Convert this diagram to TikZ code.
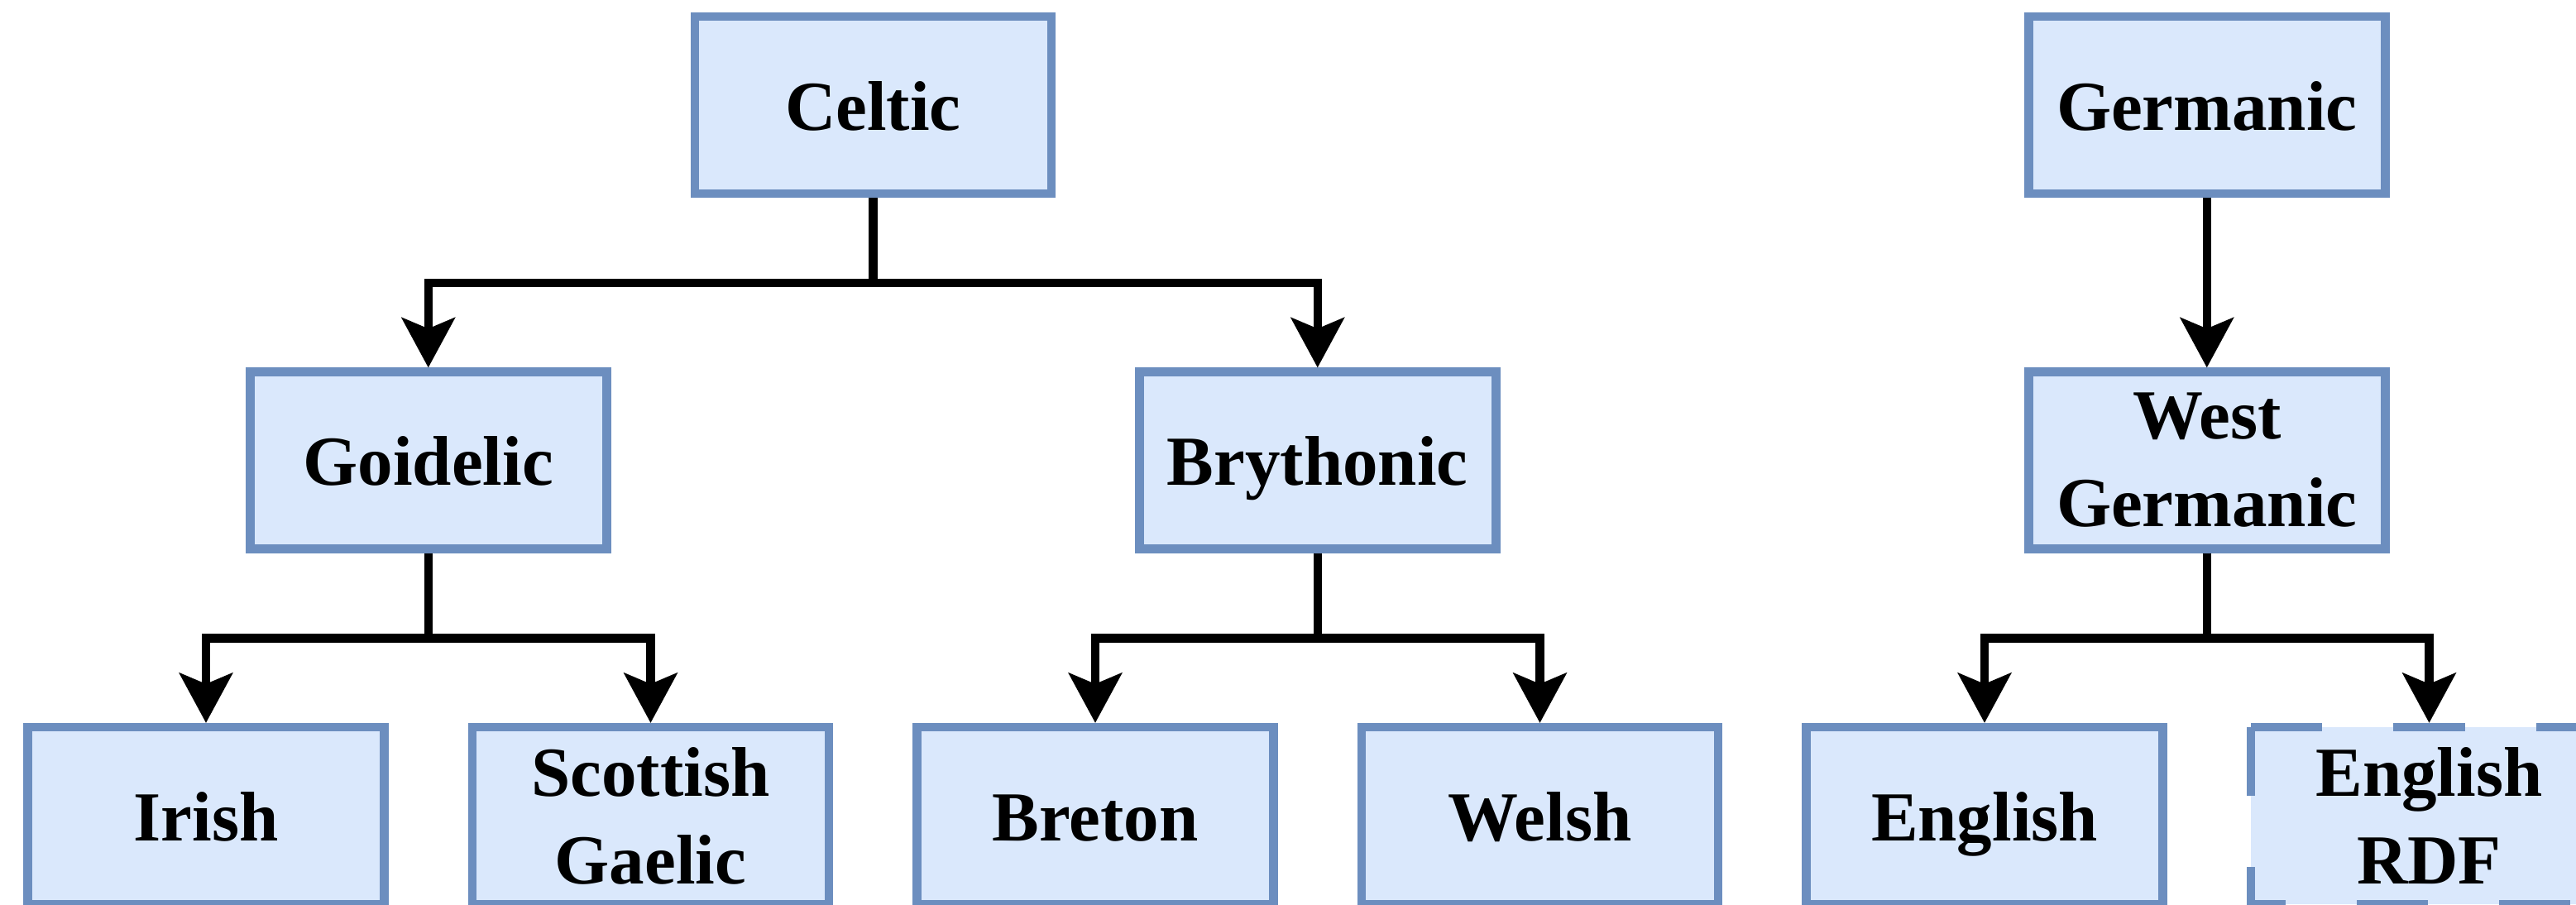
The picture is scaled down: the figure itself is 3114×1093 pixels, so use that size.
\documentclass[tikz,border=0pt]{standalone}
\usepackage{fontspec}
\setmainfont{Liberation Serif}
\usetikzlibrary{arrows.meta,calc}
\definecolor{boxfill}{HTML}{DAE8FC}
\definecolor{boxline}{HTML}{6C8EBF}
\begin{document}
\begin{tikzpicture}[x=0.5pt,y=-0.5pt,
  box/.style={rectangle, draw=boxline, fill=boxfill, line width=5.25pt,
    minimum width=215.5pt, minimum height=107pt, inner sep=0pt, align=center,
    font=\fontsize{42.5pt}{53pt}\selectfont\bfseries},
  oneline/.style={text height=31pt, text depth=1pt},
  fillbox/.style={box, draw=none},
  dashedborder/.style={draw=boxline, line width=5.25pt, dash pattern=on 43.1pt off 43.1pt},
  link/.style={line width=5.25pt,
    -{Stealth[length=30.5pt, width=33pt, inset=7pt, line width=0pt]}}]
\useasboundingbox (0,0) rectangle (3114,1093);
\clip (0,0) rectangle (3114,1093);

% Celtic branch
\node[box, oneline] (celtic)   at (1055.25,127)   {Celtic};
\node[box, oneline] (goidelic) at (517.75,556.5)  {Goidelic};
\node[box, oneline] (brython)  at (1592.75,556.5) {Brythonic};
\node[box, oneline] (irish)    at (249,986)       {Irish};
\node[box]          (scots)    at (786.5,986)     {Scottish\\Gaelic};
\node[box, oneline] (breton)   at (1324,986)      {Breton};
\node[box, oneline] (welsh)    at (1861.5,986)    {Welsh};

% Germanic branch
\node[box, oneline] (germanic) at (2667.75,127)   {Germanic};
\node[box]          (westgerm) at (2667.75,556.5) {West\\Germanic};
\node[box, oneline] (english)  at (2399,986)      {English};
\node[fillbox]      (rdf)      at (2936.5,986)    {English\\RDF};
% dashed outline, clockwise from the top left corner
\draw[dashedborder]
  ([shift={(2.625pt,-2.625pt)}]rdf.north west) --
  ([shift={(-2.625pt,-2.625pt)}]rdf.north east) --
  ([shift={(-2.625pt,2.625pt)}]rdf.south east) --
  ([shift={(2.625pt,2.625pt)}]rdf.south west) -- cycle;

% connectors
\draw[link] (celtic.south) |- ($(celtic.south)!.5!(goidelic.north)$) -| (goidelic.north);
\draw[link] (celtic.south) |- ($(celtic.south)!.5!(brython.north)$) -| (brython.north);
\draw[link] (goidelic.south) |- ($(goidelic.south)!.5!(irish.north)$) -| (irish.north);
\draw[link] (goidelic.south) |- ($(goidelic.south)!.5!(scots.north)$) -| (scots.north);
\draw[link] (brython.south) |- ($(brython.south)!.5!(breton.north)$) -| (breton.north);
\draw[link] (brython.south) |- ($(brython.south)!.5!(welsh.north)$) -| (welsh.north);
\draw[link] (germanic.south) -- (westgerm.north);
\draw[link] (westgerm.south) |- ($(westgerm.south)!.5!(english.north)$) -| (english.north);
\draw[link] (westgerm.south) |- ($(westgerm.south)!.5!(rdf.north)$) -| (rdf.north);
\end{tikzpicture}
\end{document}
